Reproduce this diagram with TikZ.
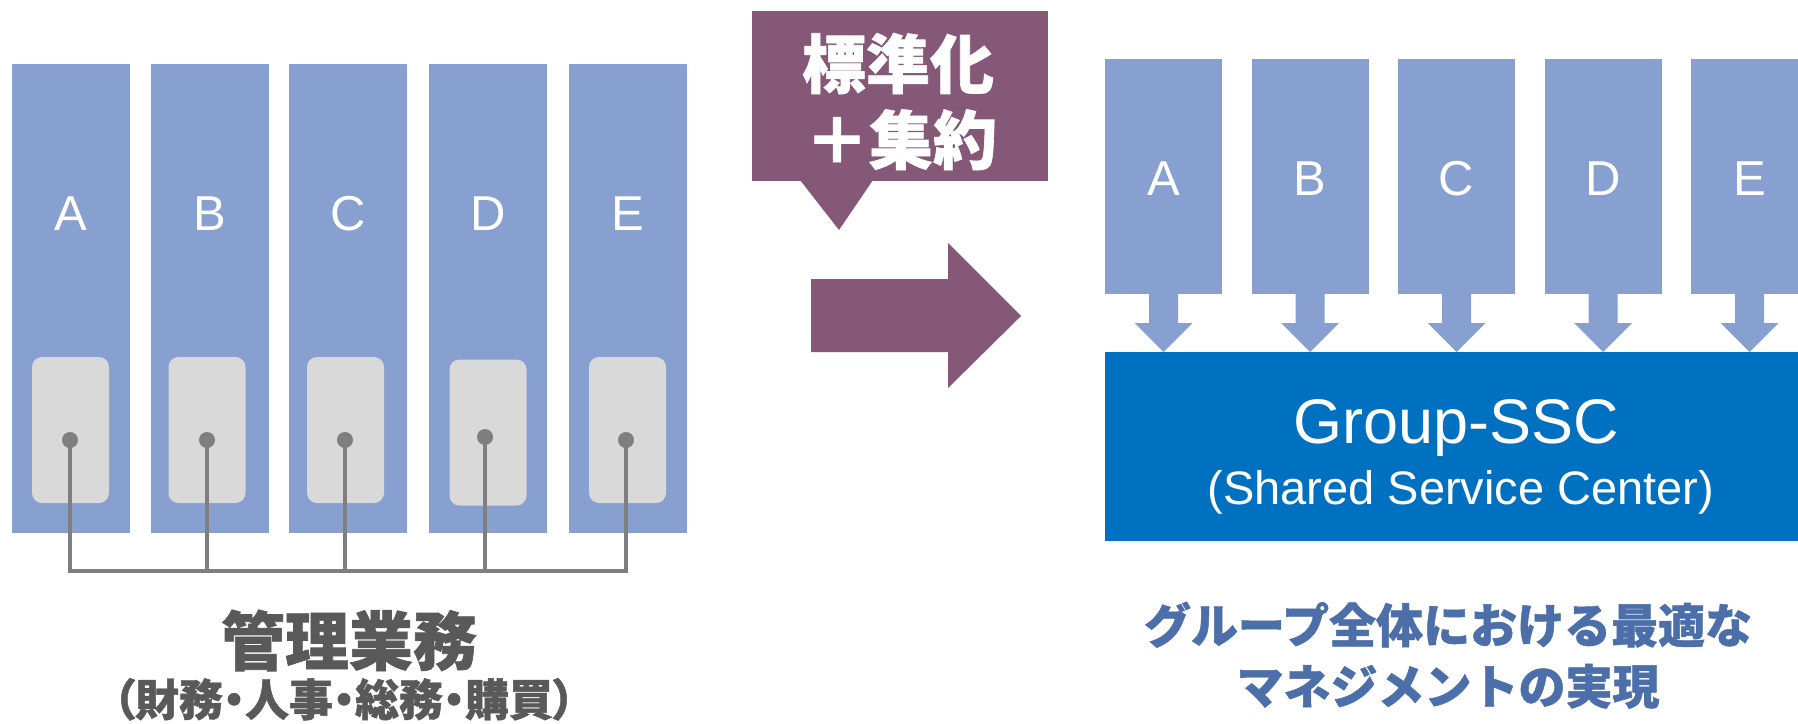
\documentclass[tikz,border=0pt]{standalone}
\usepackage{fontspec}
\setmainfont{Liberation Sans}
\newfontfamily\cjk{Noto Sans CJK JP}[BoldFeatures={FakeBold=1}]
\newfontfamily\cjkp{Noto Sans CJK JP}[RawFeature=+palt,BoldFeatures={FakeBold=1}]
\usetikzlibrary{calc}
\definecolor{colblue}{HTML}{87A0CF}
\definecolor{innergray}{HTML}{D9D9D9}
\definecolor{linkgray}{HTML}{7F7F7F}
\definecolor{purp}{HTML}{865877}
\definecolor{sscblue}{HTML}{0070C0}
\definecolor{darktext}{HTML}{595959}
\definecolor{bluetext}{HTML}{4C6FA9}
\begin{document}
\begin{tikzpicture}[x=0.5pt,y=-0.5pt,
  colbox/.style={fill=colblue,draw=none,inner sep=0pt,outer sep=0pt},
  leftcol/.style={colbox,minimum width=59pt,minimum height=234.5pt},
  rightcol/.style={colbox,minimum width=58.5pt,minimum height=117.5pt},
  innerbox/.style={fill=innergray,draw=none,rounded corners=5pt,inner sep=0pt,outer sep=0pt,minimum width=38.5pt,minimum height=73pt},
  dot/.style={circle,fill=linkgray,draw=none,inner sep=0pt,minimum size=8pt},
  link/.style={draw=linkgray,line width=1.6pt},
  letter/.style={text=white,font=\fontsize{24.5}{28}\selectfont,anchor=base,inner sep=0pt},
  calltext/.style={text=white,font=\fontsize{32}{36}\selectfont\cjk\bfseries,anchor=base,inner sep=0pt},
  lefttitle/.style={text=darktext,font=\fontsize{32}{36}\selectfont\cjk\bfseries,anchor=base,inner sep=0pt},
  leftsub/.style={text=darktext,font=\fontsize{22}{26}\selectfont\cjkp\bfseries,anchor=base,inner sep=0pt},
  righttext/.style={text=bluetext,font=\fontsize{23.5}{27}\selectfont\cjk\bfseries,anchor=base,inner sep=0pt},
  ssctitle/.style={text=white,font=\fontsize{31.5}{36}\selectfont,anchor=base,inner sep=0pt},
  sscsub/.style={text=white,font=\fontsize{23.5}{27}\selectfont,anchor=base,inner sep=0pt},
  downarrow/.style={fill=colblue,draw=none},
  bigarrow/.style={fill=purp,draw=none}
]
\useasboundingbox (0,0) rectangle (1798,723);
\begin{scope}
\clip (0,0) rectangle (1798,723);

% ---- left columns ----
\foreach \n/\x in {A/71,B/210,C/348,D/488,E/628}{
  \node[leftcol] (L\n) at (\x,298.5) {};
  \node[letter] (t\n) at (\x,230) {\n};
}
\node[innerbox] (iA) at (70.5,430) {};
\node[innerbox] (iB) at (207,430) {};
\node[innerbox] (iC) at (345.5,430) {};
\node[innerbox] (iD) at (488,432.5) {};
\node[innerbox] (iE) at (627.5,430) {};
\coordinate (bA) at (70,571);
\coordinate (bE) at (626,571);
\node[dot] (dA) at (70,440) {};
\node[dot] (dB) at (207,440) {};
\node[dot] (dC) at (345,440) {};
\node[dot] (dD) at (485,437) {};
\node[dot] (dE) at (626,440) {};
\draw[link] (dA.center) -- (bA) -- (bE) -- (dE.center);
\draw[link] (dB.center) -- (dB.center |- bA);
\draw[link] (dC.center) -- (dC.center |- bA);
\draw[link] (dD.center) -- (dD.center |- bA);

\node[lefttitle] (ltitle) at (349,665) {管理業務};
\node[leftsub] (lsub) at (344,716) {（財務・人事・総務・購買）};

% ---- callout ----
\node[fill=purp,draw=none,inner sep=0pt,outer sep=0pt,minimum width=148pt,minimum height=85pt] (callout) at (900,96) {};
\fill[purp] (800,180) -- (873,180) -- (839,230) -- cycle;
\node[calltext] (c1) at (898,88) {標準化};
\node[calltext] (c2) at (901,164) {＋集約};

% ---- big arrow ----
\fill[bigarrow] (811,279) -- (948,279) -- (948,243) -- (1021,316) -- (948,388) -- (948,352) -- (811,352) -- cycle;

% ---- right columns ----
\foreach \n/\x in {A/1163.5,B/1310,C/1456.5,D/1603,E/1749.5}{
  \node[rightcol] (R\n) at (\x,176.5) {};
  \node[letter] (rt\n) at (\x,195) {\n};
  \fill[downarrow] ($(R\n.south)+(-14.5,-1)$) -- ($(R\n.south)+(14.5,-1)$) -- ($(R\n.south)+(14.5,29)$) -- ($(R\n.south)+(29,29)$) -- ($(R\n.south)+(0,58)$) -- ($(R\n.south)+(-29,29)$) -- ($(R\n.south)+(-14.5,29)$) -- cycle;
}

\node[fill=sscblue,draw=none,inner sep=0pt,outer sep=0pt,minimum width=346.5pt,minimum height=94.5pt] (ssc) at (1451.5,446.5) {};
\node[ssctitle] (sscT) at (1456,443) {Group-SSC};
\node[sscsub] (sscS) at (1461,504) {(Shared Service Center)};

\node[righttext] (r1) at (1448,643) {グループ全体における最適な};
\node[righttext] (r2) at (1448,704) {マネジメントの実現};
\end{scope}
\end{tikzpicture}
\end{document}
